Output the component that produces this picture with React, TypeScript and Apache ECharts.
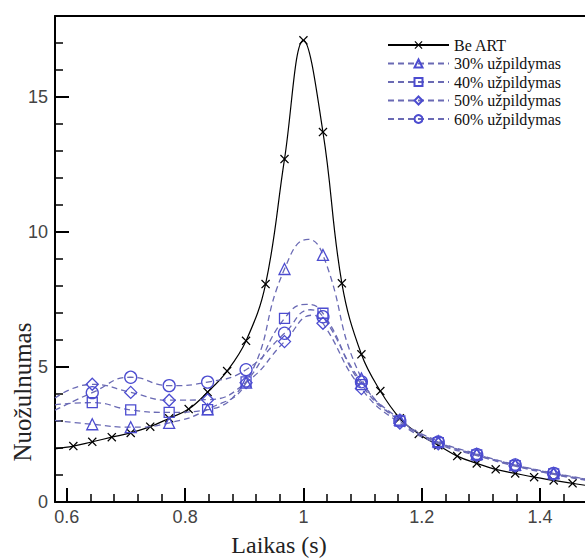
import React, { useEffect, useRef } from "react";
import * as echarts from "echarts";

// ---- data ----
const tBlack = [0.611, 0.643, 0.676, 0.708, 0.741, 0.773, 0.806, 0.838, 0.871, 0.903, 0.936, 0.968, 1.0, 1.033, 1.065, 1.098, 1.13, 1.163, 1.195, 1.228, 1.26, 1.293, 1.325, 1.358, 1.39, 1.423, 1.455];
const beART = [2.07, 2.23, 2.4, 2.56, 2.79, 3.1, 3.44, 4.07, 4.85, 5.97, 8.07, 12.7, 17.1, 13.7, 8.1, 5.47, 4.11, 3.1, 2.52, 2.1, 1.7, 1.43, 1.21, 1.06, 0.92, 0.8, 0.69];
const beARTLineOnly = [[0.58, 1.97], [1.476, 0.62]];

const tBlue = [0.643, 0.708, 0.773, 0.838, 0.903, 0.968, 1.033, 1.098, 1.163, 1.228, 1.293, 1.358, 1.423];
const fill30 = [2.88, 2.77, 2.93, 3.43, 4.42, 8.63, 9.15, 4.58, 3.05, 2.25, 1.78, 1.38, 1.07];
const fill40 = [3.68, 3.41, 3.32, 3.42, 4.45, 6.8, 6.99, 4.35, 3.0, 2.2, 1.74, 1.35, 1.04];
const fill50 = [4.36, 4.06, 3.77, 3.79, 4.42, 5.94, 6.62, 4.2, 2.92, 2.15, 1.72, 1.33, 1.02];
const fill60 = [4.05, 4.62, 4.31, 4.44, 4.9, 6.25, 6.86, 4.45, 3.0, 2.22, 1.76, 1.37, 1.06];
const fill30LineOnly = [[0.58, 3.02], [1.008, 9.73], [1.476, 0.86]];
const fill40LineOnly = [[0.58, 3.6], [1.005, 7.32], [1.476, 0.83]];
const fill50LineOnly = [[0.58, 3.85], [1.016, 6.92], [1.476, 0.81]];
const fill60LineOnly = [[0.58, 3.4], [1.012, 7.12], [1.476, 0.85]];

const seriesNames = ["Be ART", "30% užpildymas", "40% užpildymas", "50% užpildymas", "60% užpildymas"];

const xMajor = [0.6, 0.8, 1.0, 1.2, 1.4];
const xMinor = [0.64, 0.68, 0.72, 0.76, 0.84, 0.88, 0.92, 0.96, 1.04, 1.08, 1.12, 1.16, 1.24, 1.28, 1.32, 1.36, 1.44];
const yMajor = [0, 5, 10, 15];
const yMinor = [1, 2, 3, 4, 6, 7, 8, 9, 11, 12, 13, 14, 16, 17];

const X_MARK = "path://M0,1L1,0L5,4L9,0L10,1L6,5L10,9L9,10L5,6L1,10L0,9L4,5Z";
const SERIF = '"Liberation Serif", "Times New Roman", serif';

function buildData(xs: number[], ys: number[], lineOnly: number[][]) {
  const pts: any[] = xs.map((x, i) => ({ value: [x, ys[i]] }));
  lineOnly.forEach((p) => pts.push({ value: [p[0], p[1]], symbol: "none" }));
  pts.sort((a, b) => a.value[0] - b.value[0]);
  return pts;
}

export default function App() {
  const ref = useRef<HTMLDivElement>(null);
  useEffect(() => {
    if (!ref.current) return;
    const chart = echarts.init(ref.current, null, { renderer: "svg" });
    const blueLine = "#6a6ab4";
    const blueMark = "#4c4cd0";
    const blueSeries = (name: string, data: any[], symbol: string, size: number) => ({
      name,
      type: "line",
      data,
      smooth: 0.5,
      symbol,
      symbolSize: size,
      showAllSymbol: true,
      lineStyle: { color: blueLine, width: 1.3, type: [6, 4] },
      itemStyle: { color: "rgba(255,255,255,0)", borderColor: blueMark, borderWidth: 1.3 },
      emphasis: { disabled: true },
      z: 3,
    });
    chart.setOption({
      animation: false,
      grid: { left: 55, right: 0, top: 16, bottom: 56, containLabel: false },
      legend: {
        left: 387,
        top: 37,
        padding: 0,
        orient: "vertical",
        itemWidth: 61,
        itemHeight: 10,
        itemGap: 2.5,
        data: seriesNames,
        textStyle: { fontFamily: SERIF, fontSize: 16, color: "#111", lineHeight: 16 },
      },
      xAxis: [
        {
          type: "value", min: 0.58, max: 1.476, position: "bottom",
          axisLine: { show: true, lineStyle: { color: "#000", width: 2 } },
          axisTick: { show: true, inside: true, length: 14, customValues: xMajor, lineStyle: { color: "#000", width: 2 } },
          axisLabel: { customValues: xMajor, fontFamily: "Liberation Sans", fontSize: 18, color: "#444", margin: 6 },
          splitLine: { show: false },
        },
        {
          type: "value", min: 0.58, max: 1.476, position: "bottom",
          axisLine: { show: false },
          axisTick: { show: true, inside: true, length: 8, customValues: xMinor, lineStyle: { color: "#000", width: 1.5 } },
          axisLabel: { show: false },
          splitLine: { show: false },
        },
        {
          type: "value", min: 0.58, max: 1.476, position: "top",
          axisLine: { show: true, lineStyle: { color: "#000", width: 2 } },
          axisTick: { show: false }, axisLabel: { show: false }, splitLine: { show: false },
        },
      ],
      yAxis: [
        {
          type: "value", min: 0, max: 18, position: "left",
          axisLine: { show: true, lineStyle: { color: "#000", width: 2 } },
          axisTick: { show: true, inside: true, length: 14, customValues: yMajor, lineStyle: { color: "#000", width: 2 } },
          axisLabel: { customValues: yMajor, fontFamily: "Liberation Sans", fontSize: 18, color: "#444", margin: 7 },
          splitLine: { show: false },
        },
        {
          type: "value", min: 0, max: 18, position: "left",
          axisLine: { show: false },
          axisTick: { show: true, inside: true, length: 8, customValues: yMinor, lineStyle: { color: "#000", width: 1.5 } },
          axisLabel: { show: false },
          splitLine: { show: false },
        },
      ],
      graphic: [
        {
          type: "text", x: 279, y: 545,
          style: { text: "Laikas (s)", font: '24px "Liberation Serif"', fill: "#222", textAlign: "center", textVerticalAlign: "middle" },
        },
        {
          type: "text", x: 22, y: 392, rotation: Math.PI / 2,
          style: { text: "Nuožulnumas", font: '25px "Liberation Serif"', fill: "#222", textAlign: "center", textVerticalAlign: "middle" },
        },
      ],
      series: [
        {
          name: seriesNames[0],
          type: "line",
          data: buildData(tBlack, beART, beARTLineOnly),
          smooth: 0.4,
          symbol: X_MARK,
          symbolSize: 9,
          showAllSymbol: true,
          lineStyle: { color: "#000", width: 1.2 },
          itemStyle: { color: "#000" },
          emphasis: { disabled: true },
          z: 2,
        },
        blueSeries(seriesNames[1], buildData(tBlue, fill30, fill30LineOnly), "triangle", 11),
        blueSeries(seriesNames[2], buildData(tBlue, fill40, fill40LineOnly), "rect", 10),
        blueSeries(seriesNames[3], buildData(tBlue, fill50, fill50LineOnly), "diamond", 12),
        blueSeries(seriesNames[4], buildData(tBlue, fill60, fill60LineOnly), "circle", 12),
      ],
    });
    return () => chart.dispose();
  }, []);
  return <div ref={ref} style={{ position: "absolute", left: 0, top: 0, width: 585, height: 558 }} />;
}
